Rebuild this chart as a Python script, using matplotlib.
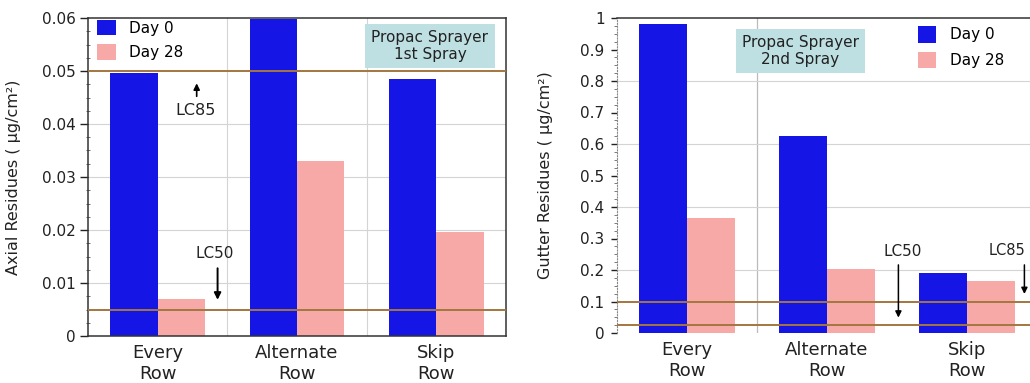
import matplotlib
matplotlib.use("Agg")
import matplotlib.pyplot as plt
import numpy as np

# data
rows = ["Every\nRow", "Alternate\nRow", "Skip\nRow"]
axial_day0 = [0.0497, 0.0598, 0.0485]
axial_day28 = [0.0070, 0.0330, 0.0196]
gutter_day0 = [0.98, 0.625, 0.19]
gutter_day28 = [0.365, 0.203, 0.165]
axial_lc85 = 0.05
axial_lc50 = 0.005
gutter_lc85 = 0.10
gutter_lc50 = 0.025

plt.rcParams['font.family'] = ['DejaVu Sans']
BLUE = "#1515e6"
PINK = "#f6a9a6"
BROWN = "#a3763f"
BOXC = "#bfe0e3"
GRID = "#d4d4d4"
TXT = "#222222"

fig = plt.figure(figsize=(10.3, 3.83), dpi=100)
x = np.arange(len(rows))
w = 0.34

# ---------- left: axial residues, 1st spray ----------
ax1 = fig.add_axes([88/1030, 47/383, 418/1030, 318/383])
for gx in [0.5, 1.5]:
    ax1.axvline(gx, color=GRID, lw=0.8, zorder=0)
for gy in [0.01, 0.02, 0.03, 0.04]:
    ax1.axhline(gy, color=GRID, lw=0.8, zorder=0)
ax1.bar(x - w/2, axial_day0, w, color=BLUE, label="Day 0", zorder=2)
ax1.bar(x + w/2, axial_day28, w, color=PINK, label="Day 28", zorder=2)
ax1.axhline(axial_lc85, color=BROWN, lw=1.4, zorder=3)
ax1.axhline(axial_lc50, color=BROWN, lw=1.4, zorder=3)
ax1.set_xlim(-0.5, 2.5)
ax1.set_ylim(0, 0.06)
ax1.set_yticks([0, 0.01, 0.02, 0.03, 0.04, 0.05, 0.06])
ax1.set_yticklabels(["0", "0.01", "0.02", "0.03", "0.04", "0.05", "0.06"])
ax1.set_yticks(np.arange(0, 0.0601, 0.0025), minor=True)
ax1.set_xticks(x)
ax1.set_xticklabels(rows, fontsize=13, color=TXT, linespacing=1.2)
ax1.tick_params(axis='y', labelsize=11, length=6, width=1, pad=3, colors=TXT)
ax1.tick_params(axis='y', which='minor', length=3, direction='inout', color="#555555")
ax1.tick_params(axis='x', length=0, pad=6)
for s in ax1.spines.values():
    s.set_color("#333333")
    s.set_linewidth(1.1)
ax1.set_ylabel("Axial Residues ( μg/cm²)", fontsize=11.5, color=TXT)
ax1.yaxis.set_label_coords(-0.16, 0.5)
ax1.legend(loc="upper left", bbox_to_anchor=(0.022, 0.995), frameon=False,
           fontsize=11, handlelength=1.2, handleheight=1.2, labelspacing=0.55,
           handletextpad=0.9, borderpad=0, borderaxespad=0)
ax1.text(0.818, 0.912, "Propac Sprayer\n1st Spray", transform=ax1.transAxes,
         ha="center", va="center", fontsize=11, color=TXT, zorder=4,
         bbox=dict(boxstyle="square,pad=0.4", fc=BOXC, ec="none"))
ax1.annotate("", xy=(0.28, 0.0482), xytext=(0.28, 0.0447),
             arrowprops=dict(arrowstyle="-|>", color="black", lw=1.2, mutation_scale=9))
ax1.text(0.27, 0.0425, "LC85", ha="center", va="center", fontsize=11.5, color=TXT)
ax1.text(0.41, 0.0155, "LC50", ha="center", va="center", fontsize=11, color=TXT)
ax1.annotate("", xy=(0.43, 0.0063), xytext=(0.43, 0.0133),
             arrowprops=dict(arrowstyle="-|>", color="black", lw=1.4, mutation_scale=10))

# ---------- right: gutter residues, 2nd spray ----------
ax2 = fig.add_axes([617/1030, 50/383, 420/1030, 315/383])
ax2.axvline(0.5, color="#bbbbbb", lw=0.9, zorder=0)
for gy in [0.2, 0.4, 0.6, 0.8]:
    ax2.axhline(gy, color=GRID, lw=0.8, zorder=0)
ax2.bar(x - w/2, gutter_day0, w, color=BLUE, label="Day 0", zorder=2)
ax2.bar(x + w/2, gutter_day28, w, color=PINK, label="Day 28", zorder=2)
ax2.axhline(gutter_lc85, color=BROWN, lw=1.4, zorder=3)
ax2.axhline(gutter_lc50, color=BROWN, lw=1.4, zorder=3)
ax2.set_xlim(-0.5, 2.5)
ax2.set_ylim(0, 1)
yt = np.round(np.arange(0, 1.01, 0.1), 1)
ax2.set_yticks(yt)
ax2.set_yticklabels(["0"] + [f"{v:g}" for v in yt[1:-1]] + ["1"])
ax2.set_yticks(np.arange(0, 1.001, 0.025), minor=True)
ax2.set_xticks(x)
ax2.set_xticklabels(rows, fontsize=13, color=TXT, linespacing=1.2)
ax2.tick_params(axis='y', labelsize=11, length=4, width=1, pad=5, colors=TXT)
ax2.tick_params(axis='y', which='minor', length=2, color="#666666")
ax2.tick_params(axis='x', length=0, pad=6)
ax2.spines["left"].set_linestyle(":")
ax2.spines["left"].set_color("#888888")
ax2.spines["bottom"].set_visible(False)
ax2.spines["top"].set_color("#333333")
ax2.spines["top"].set_linewidth(1.1)
ax2.set_ylabel("Gutter Residues ( μg/cm²)", fontsize=11.5, color=TXT)
ax2.yaxis.set_label_coords(-0.152, 0.5)
ax2.legend(loc="upper left", bbox_to_anchor=(0.717, 0.975), frameon=False,
           fontsize=11, handlelength=1.2, handleheight=1.3, labelspacing=0.6,
           handletextpad=0.9, borderpad=0, borderaxespad=0)
ax2.text(0.436, 0.895, "Propac Sprayer\n2nd Spray", transform=ax2.transAxes,
         ha="center", va="center", fontsize=11, color=TXT, zorder=4,
         bbox=dict(boxstyle="square,pad=0.4", fc=BOXC, ec="none"))
ax2.text(1.54, 0.26, "LC50", ha="center", va="center", fontsize=11, color=TXT)
ax2.annotate("", xy=(1.51, 0.04), xytext=(1.51, 0.225),
             arrowprops=dict(arrowstyle="-|>", color="black", lw=1.1, mutation_scale=9))
ax2.text(2.285, 0.263, "LC85", ha="center", va="center", fontsize=10.5, color=TXT)
ax2.annotate("", xy=(2.41, 0.115), xytext=(2.41, 0.225),
             arrowprops=dict(arrowstyle="-|>", color="black", lw=1.1, mutation_scale=9))

fig.savefig("out.png", dpi=100)
